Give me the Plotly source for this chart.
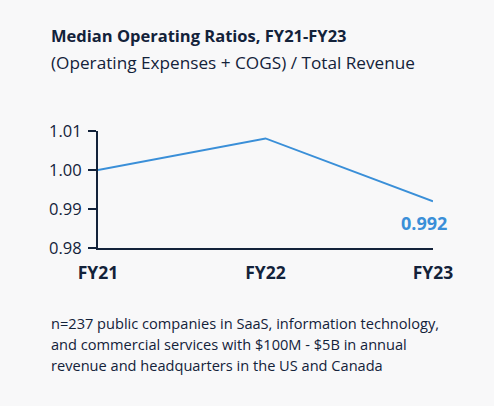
import plotly.graph_objects as go

# Data
years = ["FY21", "FY22", "FY23"]
ratios = [1.000, 1.0081, 0.992]
y_ticks = [0.98, 0.99, 1.00, 1.01]
footnote_lines = [
    "n=237 public companies in SaaS, information technology,",
    "and commercial services with $100M - $5B in annual",
    "revenue and headquarters in the US and Canada",
]

navy = "#13223a"
blue = "#3a8fd8"
bg = "#f8f8f9"
font = "Open Sans"

fig = go.Figure()

fig.add_trace(go.Scatter(
    x=years,
    y=ratios,
    mode="lines",
    line=dict(color=blue, width=2),
    hoverinfo="skip",
    showlegend=False,
))

# Label on last point
fig.add_annotation(
    x=years[-1], y=ratios[-1],
    text="<b>%.3f</b>" % ratios[-1],
    showarrow=False,
    xanchor="right", yanchor="middle",
    xshift=16, yshift=-22,
    font=dict(family=font, size=18, color=blue),
)

# Title + subtitle
fig.add_annotation(
    xref="paper", yref="paper", x=-0.147, y=1.816,
    text="<b>Median Operating Ratios, FY21-FY23</b>",
    showarrow=False, xanchor="left", yanchor="middle",
    font=dict(family=font, size=16.5, color=navy),
)
fig.add_annotation(
    xref="paper", yref="paper", x=-0.147, y=1.586,
    text="(Operating Expenses + COGS) / Total Revenue",
    showarrow=False, xanchor="left", yanchor="middle",
    font=dict(family=font, size=17.2, color=navy),
)

# Footnote
for i, line in enumerate(footnote_lines):
    fig.add_annotation(
        xref="paper", yref="paper", x=-0.147, y=-0.64 - i * 0.179,
        text=line,
        showarrow=False, xanchor="left", yanchor="middle",
        font=dict(family=font, size=14.6, color=navy),
    )

fig.update_layout(
    width=494, height=406,
    margin=dict(l=98, r=61, t=131, b=158),
    paper_bgcolor=bg, plot_bgcolor=bg,
    font=dict(family=font, color=navy),
    xaxis=dict(
        type="category",
        range=[0, 2],
        showgrid=False, zeroline=False,
        showline=True, linecolor=navy, linewidth=2,
        ticks="", ticklabelstandoff=8,
        tickfont=dict(family=font, size=17.5, color=navy, weight="bold"),
    ),
    yaxis=dict(
        range=[0.98, 1.01],
        tickvals=y_ticks,
        ticktext=["%.2f" % v for v in y_ticks],
        showgrid=False, zeroline=False,
        showline=True, linecolor=navy, linewidth=2,
        ticks="outside", ticklen=8, tickwidth=2, tickcolor=navy,
        ticklabelstandoff=3,
        tickfont=dict(family=font, size=16.5, color=navy),
    ),
)

# no page margin, so the figure fills the window
fig.write_html(
    "out.html",
    config={"displayModeBar": False},
    post_script="document.body.style.margin = '0';",
)
